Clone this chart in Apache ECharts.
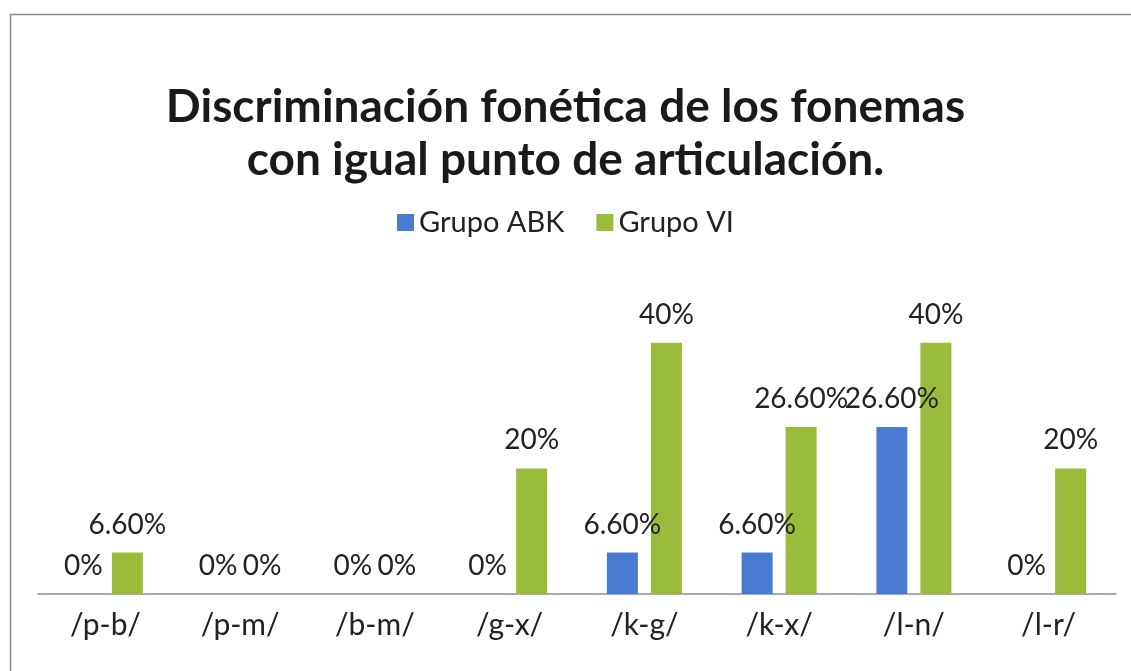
<!DOCTYPE html>
<html>
<head>
<meta charset="utf-8">
<script src="https://cdn.jsdelivr.net/npm/echarts@6/dist/echarts.min.js"></script>
<style>
html,body{margin:0;padding:0;background:#fff;}
#chart{width:1131px;height:671px;}
</style>
</head>
<body>
<div id="chart"></div>
<script>
var titleText = 'Discriminación fonética de los fonemas\ncon igual punto de articulación.';
var categories = ['/p-b/', '/p-m/', '/b-m/', '/g-x/', '/k-g/', '/k-x/', '/l-n/', '/l-r/'];
var seriesNames = ['Grupo ABK', 'Grupo VI'];
var grupoABK = [0, 0, 0, 0, 6.6, 6.6, 26.6, 0];
var grupoVI = [6.6, 0, 0, 20, 40, 26.6, 40, 20];

var FONT = 'Lato, "Open Sans", sans-serif';
function fmt(p) {
  var v = p.value;
  return (Math.round(v) === v ? String(v) : v.toFixed(2)) + '%';
}
var labelStyle = {show: true, position: 'top', distance: 14, formatter: fmt, fontSize: 28, color: '#222', fontFamily: FONT};

var chart = echarts.init(document.getElementById('chart'));
chart.setOption({
  backgroundColor: '#fff',
  animation: false,
  graphic: [{
    type: 'rect', left: 8, top: 12, shape: {width: 1140, height: 700},
    style: {fill: 'none', stroke: '#888', lineWidth: 1.5}, silent: true
  }],
  title: {
    text: titleText, left: 'center', top: 76,
    textStyle: {fontSize: 46, fontWeight: 'bold', color: '#1a1a1a', fontFamily: FONT, lineHeight: 53}
  },
  legend: {
    data: seriesNames, top: 203, left: 'center', itemWidth: 17, itemHeight: 17, itemGap: 32,
    icon: 'rect',
    textStyle: {fontSize: 29, color: '#222', fontFamily: FONT}
  },
  grid: {left: 38, right: 15, top: 280, bottom: 77},
  xAxis: {
    type: 'category', data: categories,
    axisLine: {lineStyle: {color: '#8a8f9a', width: 1.5}},
    axisTick: {show: false},
    axisLabel: {fontSize: 30, color: '#222', fontFamily: FONT, margin: 16}
  },
  yAxis: {type: 'value', min: 0, max: 50, show: false, splitLine: {show: false}},
  series: [
    {name: seriesNames[0], type: 'bar', data: grupoABK, barWidth: 31, barGap: '42%',
     itemStyle: {color: '#4a7ad2'}, label: labelStyle},
    {name: seriesNames[1], type: 'bar', data: grupoVI, barWidth: 31,
     itemStyle: {color: '#9bbb3b'}, label: labelStyle}
  ]
});
</script>
</body>
</html>
